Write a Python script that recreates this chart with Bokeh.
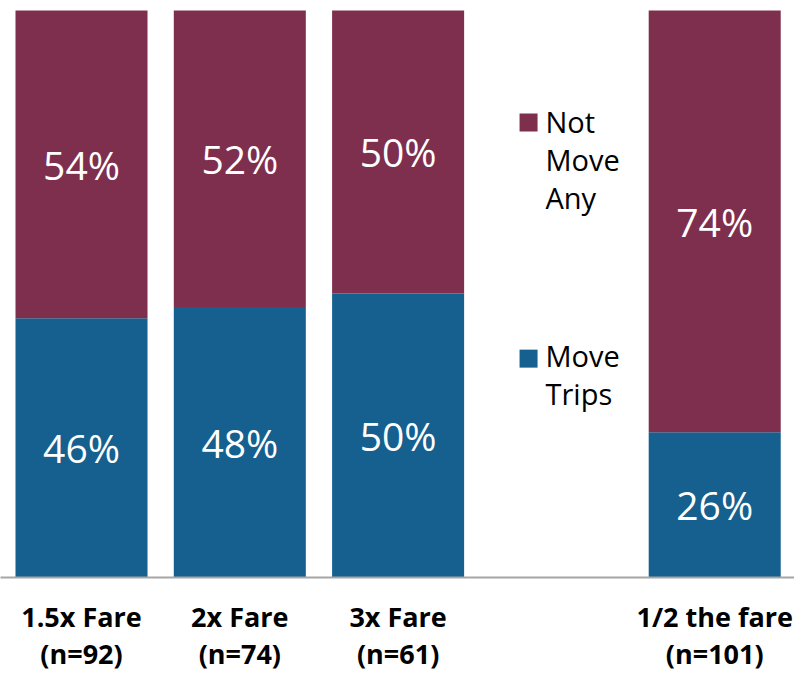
from bokeh.plotting import figure
from bokeh.models import ColumnDataSource, FixedTicker
from bokeh.core.properties import value
from bokeh.embed import file_html
from bokeh.resources import INLINE

# ---- data ----
categories = ["1.5x Fare\n(n=92)", "2x Fare\n(n=74)", "3x Fare\n(n=61)", "1/2 the fare\n(n=101)"]
slots = [0, 1, 2, 4]
move_trips = [45.7, 47.7, 50.1, 25.6]
not_move_any = [54.3, 52.3, 49.9, 74.4]
series_names = ["Not Move Any", "Move Trips"]

MAROON = "#7E2F4E"
BLUE = "#15608F"
FONT = "Open Sans"

p = figure(width=794, height=675, output_backend="svg", toolbar_location=None,
           x_range=(-0.5117, 4.504), y_range=(0, 101.76),
           min_border_left=0, min_border_right=0, min_border_top=0, min_border_bottom=98)
p.outline_line_color = None
p.grid.visible = False
p.yaxis.visible = False
p.background_fill_color = "white"
p.border_fill_color = "white"

tops1 = move_trips
tops2 = [m + n for m, n in zip(move_trips, not_move_any)]
src = ColumnDataSource(dict(
    x=slots, move=move_trips, notmove=not_move_any, top1=tops1, top2=tops2,
    mid1=[m / 2 for m in move_trips],
    mid2=[m + n / 2 for m, n in zip(move_trips, not_move_any)],
    lab1=[f"{round(v)}%" for v in move_trips],
    lab2=[f"{round(v)}%" for v in not_move_any],
))

p.vbar(x="x", bottom=0, top="top1", width=0.834, source=src, fill_color=BLUE, line_color=None)
p.vbar(x="x", bottom="top1", top="top2", width=0.834, source=src, fill_color=MAROON, line_color=None)

p.text(x="x", y="mid1", text="lab1", source=src, text_color="white", text_font=value(FONT),
       text_font_size="39px", text_align="center", text_baseline="middle")
p.text(x="x", y="mid2", text="lab2", source=src, text_color="white", text_font=value(FONT),
       text_font_size="39px", text_align="center", text_baseline="middle")

# legend (drawn manually in the empty slot)
leg_x = 2.824
leg_tx = 2.931
p.scatter(x=[leg_x, leg_x], y=[80.25, 38.6], marker="square", size=18,
          fill_color=[MAROON, BLUE], line_color=None)
leg_lines = ["Not", "Move", "Any", "Move", "Trips"]
leg_y = [80.5, 73.8, 67.1, 39.2, 32.4]
p.text(x=[leg_tx] * len(leg_lines), y=leg_y, text=leg_lines, text_color="black",
       text_font=value(FONT), text_font_size="29px", text_align="left", text_baseline="alphabetic")

# x axis
ax = p.xaxis[0]
ax.ticker = FixedTicker(ticks=slots)
ax.major_label_overrides = {s: c for s, c in zip(slots, categories)}
ax.major_tick_line_color = None
ax.minor_tick_line_color = None
ax.axis_line_color = "#A6A6A6"
ax.axis_line_width = 2
ax.major_label_text_font = FONT
ax.major_label_text_font_style = "bold"
ax.major_label_text_font_size = "27px"
ax.major_label_text_color = "black"
ax.major_label_standoff = 14
ax.major_label_text_line_height = 1.0

open("out.html", "w").write(file_html(p, INLINE))
